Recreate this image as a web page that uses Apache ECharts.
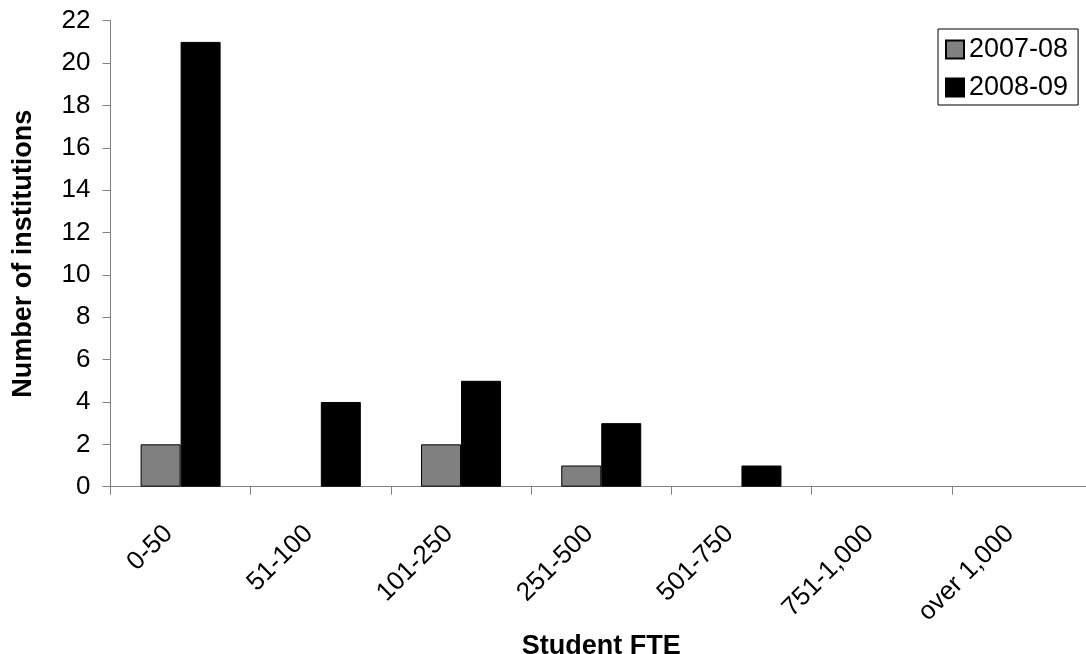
<!DOCTYPE html>
<html>
<head>
<meta charset="utf-8">
<script src="https://cdn.jsdelivr.net/npm/echarts@6/dist/echarts.min.js"></script>
<style>
  html, body { margin: 0; padding: 0; background: #fff; }
  #chart { width: 1086px; height: 654px; }
</style>
</head>
<body>
<div id="chart"></div>
<script>
// Institutions by student FTE band
const categories = ['0-50', '51-100', '101-250', '251-500', '501-750', '751-1,000', 'over 1,000'];
const seriesNames = ['2007-08', '2008-09'];
const values2007 = [2, 0, 2, 1, 0, 0, 0];
const values2008 = [21, 4, 5, 3, 1, 0, 0];
const yTicks = { min: 0, max: 22, interval: 2 };

// empty bands get no bar (avoids a flat outlined sliver on the axis)
const asBars = arr => arr.map(v => (v === 0 ? null : v));

const FONT = '"Liberation Sans", Arial, sans-serif';
const chart = echarts.init(document.getElementById('chart'), null, { renderer: 'canvas' });

chart.setOption({
  animation: false,
  backgroundColor: '#ffffff',
  grid: {
    left: 110.5, right: -6, top: 20.7, bottom: 167.3,
    containLabel: false, outerBoundsMode: 'none'
  },
  legend: {
    orient: 'vertical',
    left: 938,
    top: 29,
    padding: [7, 10, 4, 7],
    itemGap: 11,
    itemWidth: 18,
    itemHeight: 18,
    borderColor: '#000',
    borderWidth: 1,
    data: seriesNames.map(n => ({ name: n, icon: 'rect' })),
    textStyle: { fontFamily: FONT, fontSize: 27, color: '#000' }
  },
  xAxis: {
    type: 'category',
    data: categories,
    boundaryGap: true,
    name: 'Student FTE',
    nameLocation: 'middle',
    nameGap: 135,
    nameTextStyle: { fontFamily: FONT, fontSize: 27, fontWeight: 'bold', color: '#000' },
    axisLine: { lineStyle: { color: '#808080', width: 1 } },
    axisTick: { show: true, alignWithLabel: false, length: 8, lineStyle: { color: '#808080' } },
    axisLabel: {
      interval: 0, rotate: 45, margin: 31, padding: [0, 17, 0, 0],
      fontFamily: FONT, fontSize: 26, color: '#000'
    },
    splitLine: { show: false }
  },
  yAxis: {
    type: 'value',
    min: yTicks.min, max: yTicks.max, interval: yTicks.interval,
    name: 'Number of institutions',
    nameLocation: 'middle',
    nameRotate: 90,
    nameGap: 73,
    nameTextStyle: { fontFamily: FONT, fontSize: 27, fontWeight: 'bold', color: '#000' },
    axisLine: { show: true, lineStyle: { color: '#808080', width: 1 } },
    axisTick: { show: true, length: 8, lineStyle: { color: '#808080' } },
    axisLabel: { margin: 20, fontFamily: FONT, fontSize: 26, color: '#000' },
    splitLine: { show: false }
  },
  series: [
    {
      name: seriesNames[0], type: 'bar', data: asBars(values2007),
      barWidth: 40, barGap: '0%',
      itemStyle: { color: '#808080', borderColor: '#000', borderWidth: 1 }
    },
    {
      name: seriesNames[1], type: 'bar', data: asBars(values2008),
      barWidth: 40, barGap: '0%',
      itemStyle: { color: '#000000', borderColor: '#000', borderWidth: 1 }
    }
  ]
});
</script>
</body>
</html>
